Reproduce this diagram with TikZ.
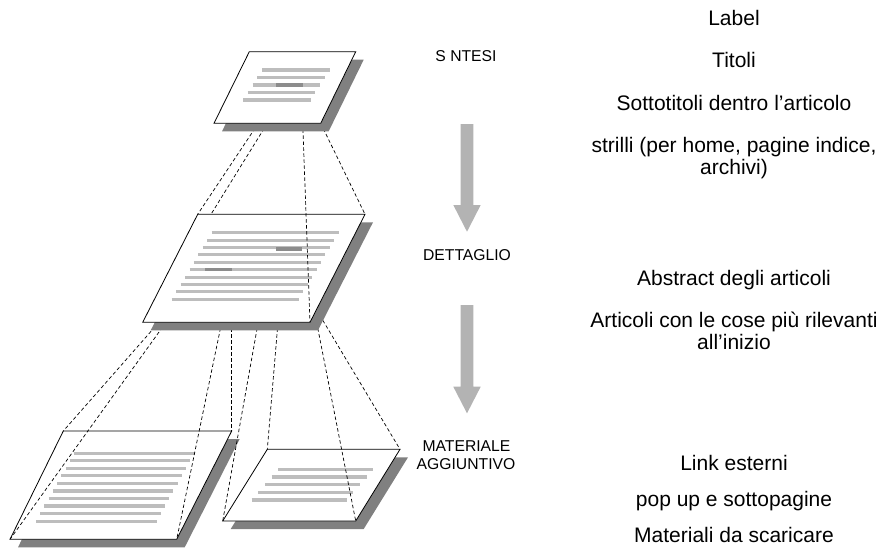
\documentclass[tikz,border=0pt]{standalone}
\usepackage{fontspec}
\setmainfont{Liberation Sans}
\definecolor{shadowgray}{HTML}{808080}
\definecolor{linegray}{HTML}{BDBDBD}
\definecolor{hlgray}{HTML}{8C8C8C}
\definecolor{arrowgray}{HTML}{B3B3B3}
\tikzset{
  page/.style={draw=black, line width=0.8pt, fill=white, line join=miter},
  pageshadow/.style={fill=shadowgray, draw=none},
  txtline/.style={draw=linegray, line width=3.1pt},
  hiline/.style={draw=hlgray, line width=3.1pt},
  proj/.style={draw=black, line width=0.7pt, dash pattern=on 3.5pt off 2.5pt},
  bigarrow/.style={fill=arrowgray, draw=none},
  lab/.style={font=\fontsize{15.7}{18.5}\selectfont, anchor=base},
  note/.style={font=\fontsize{21}{23}\selectfont, anchor=base},
}
\begin{document}
\begin{tikzpicture}[x=1pt,y=-1pt]
\useasboundingbox (0,0) rectangle (885,547);

% ---------- corner coordinates ----------
\coordinate (T-tl) at (249.3,51.7);  \coordinate (T-tr) at (355.7,51.7);
\coordinate (T-br) at (320.7,123.3); \coordinate (T-bl) at (214,123.3);
\coordinate (M-tl) at (197.7,214.3); \coordinate (M-tr) at (365,214.3);
\coordinate (M-br) at (310,322.3);   \coordinate (M-bl) at (142.7,322.3);
\coordinate (L-tl) at (63.3,431);    \coordinate (L-tr) at (231.7,431);
\coordinate (L-br) at (176.7,539.3); \coordinate (L-bl) at (10,539.3);
\coordinate (R-tl) at (267.3,449.3); \coordinate (R-tr) at (400,449.3);
\coordinate (R-br) at (355.7,521);   \coordinate (R-bl) at (222.7,521);

% start / end points of projection lines
\coordinate (s1) at (258.3,123.3); \coordinate (s2) at (267.3,123.3);
\coordinate (s3) at (302.7,123.3); \coordinate (m2) at (211,214.3);
\coordinate (pA) at (159,322.3);   \coordinate (pB) at (166,322.3);
\coordinate (pC) at (221.7,322.3); \coordinate (pD) at (231.7,322.3);
\coordinate (pE) at (258.2,322.3); \coordinate (pF) at (278,322.3);
\coordinate (pG) at (316.6,322.3); \coordinate (pH) at (316.6,310);

% ---------- bottom left page ----------
\fill[pageshadow] ([shift={(8,8)}]L-tl) -- ([shift={(8,8)}]L-tr) -- ([shift={(8,8)}]L-br) -- ([shift={(8,8)}]L-bl) -- cycle;
\draw[page] (L-tl) -- (L-tr) -- (L-br) -- (L-bl) -- cycle;
\foreach \i in {0,...,9}
  \draw[txtline] ({74-4.22*\i},{453.3+7.53*\i}) -- ++(120.5,0);

% ---------- bottom right page ----------
\fill[pageshadow] ([shift={(8,8)}]R-tl) -- ([shift={(8,8)}]R-tr) -- ([shift={(8,8)}]R-br) -- ([shift={(8,8)}]R-bl) -- cycle;
\draw[page] (R-tl) -- (R-tr) -- (R-br) -- (R-bl) -- cycle;
\foreach \i in {0,...,4}
  \draw[txtline] ({278.3-6.65*\i},{469.3+7.67*\i}) -- ++(95,0);

% ---------- projections middle -> bottom ----------
\draw[proj] (pA) -- (L-tl);
\draw[proj] (pB) -- (L-bl);
\draw[proj] (pC) -- (L-br);
\draw[proj] (pD) -- (L-tr);
\draw[proj] (pE) -- (R-bl);
\draw[proj] (pF) -- (R-tl);
\draw[proj] (pG) -- (R-br);
\draw[proj] (pH) -- (R-tr);

% ---------- middle page ----------
\fill[pageshadow] ([shift={(8,8)}]M-tl) -- ([shift={(8,8)}]M-tr) -- ([shift={(8,8)}]M-br) -- ([shift={(8,8)}]M-bl) -- cycle;
\draw[page] (M-tl) -- (M-tr) -- (M-br) -- (M-bl) -- cycle;
\foreach \i in {0,...,9}
  \draw[txtline] ({211.7-4.44*\i},{232.7+7.4*\i}) -- ++(127,0);
\draw[hiline] (276,249) -- (302.3,249);
\draw[hiline] (205,269.7) -- (231.7,269.7);

% ---------- projections top -> middle ----------
\draw[proj] (s1) -- (M-tl);
\draw[proj] (s2) -- (m2);
\draw[proj] (s3) -- (M-br);
\draw[proj] (T-br) -- (M-tr);

% ---------- top page ----------
\fill[pageshadow] ([shift={(8,8)}]T-tl) -- ([shift={(8,8)}]T-tr) -- ([shift={(8,8)}]T-br) -- ([shift={(8,8)}]T-bl) -- cycle;
\draw[page] (T-tl) -- (T-tr) -- (T-br) -- (T-bl) -- cycle;
\foreach \i in {0,...,4}
  \draw[txtline] ({262-4.7*\i},{70+7.5*\i}) -- ++(67.5,0);
\draw[hiline] (276,85) -- (302.7,85);

% ---------- big arrows ----------
\fill[bigarrow] (460.7,124) -- (473.3,124) -- (473.3,205) -- (480.7,205) -- (467,231.7) -- (453.3,205) -- (460.7,205) -- cycle;
\fill[bigarrow] (460.7,305) -- (473.3,305) -- (473.3,386.7) -- (480.7,386.7) -- (467,413.3) -- (453.3,386.7) -- (460.7,386.7) -- cycle;

% ---------- level labels ----------
\node[lab] (sintesi) at (466,61.7) {S NTESI};
\node[lab] (dettaglio) at (467,260.5) {DETTAGLIO};
\node[lab] (mat1) at (466.5,451) {MATERIALE};
\node[lab] (mat2) at (466,469) {AGGIUNTIVO};

% ---------- right notes ----------
\node[note] (n1) at (734,25) {Label};
\node[note] (n2) at (734,67) {Titoli};
\node[note] (n3) at (734,110) {Sottotitoli dentro l’articolo};
\node[note] (n4) at (734,152) {strilli (per home, pagine indice,};
\node[note] (n4b) at (734,174) {archivi)};
\node[note] (n5) at (734,285) {Abstract degli articoli};
\node[note] (n6) at (734,327) {Articoli con le cose più rilevanti};
\node[note] (n6b) at (734,349) {all’inizio};
\node[note] (n7) at (734,470) {Link esterni};
\node[note] (n8) at (734,506) {pop up e sottopagine};
\node[note] (n9) at (734,542) {Materiali da scaricare};
\end{tikzpicture}
\end{document}
